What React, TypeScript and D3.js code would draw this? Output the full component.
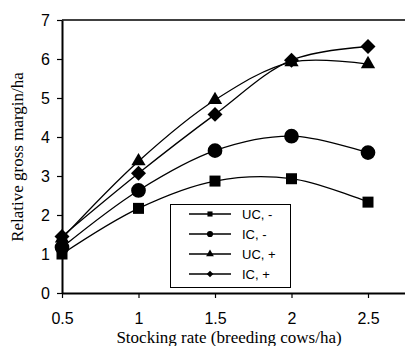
import { useEffect, useRef } from 'react'
import * as d3 from 'd3'

// stocking rate (breeding cows/ha)
const rates = [0.5, 1, 1.5, 2, 2.5]

const ucMinus = [1.0, 2.17, 2.87, 2.93, 2.33]
const icMinus = [1.17, 2.63, 3.65, 4.02, 3.6]
const ucPlus = [1.4, 3.38, 4.95, 5.92, 5.87]
const icPlus = [1.45, 3.07, 4.58, 5.97, 6.32]

const seriesNames = ['UC, -', 'IC, -', 'UC, +', 'IC, +']
const seriesSymbols = [d3.symbolSquare, d3.symbolCircle, d3.symbolTriangle, d3.symbolSquare]
const seriesSizes = [121, 170, 88, 112]
const seriesRotate = [0, 0, 0, 45]
const legendSizes = [26, 30, 26, 22]

const xTicks = [0.5, 1, 1.5, 2, 2.5]
const yTicks = [0, 1, 2, 3, 4, 5, 6, 7]

function App() {
  const svgRef = useRef(null)

  useEffect(() => {
    const svg = d3.select(svgRef.current)
    svg.selectAll('*').remove()

    const W = 405
    const H = 346
    const left = 62
    const top = 20
    const bottom = 293

    const x = d3.scaleLinear().domain([0.5, 3]).range([left, left + 2.5 * 153])
    const y = d3.scaleLinear().domain([0, 7]).range([bottom, top])

    svg.attr('width', W).attr('height', H)

    // frame top line
    svg.append('line')
      .attr('x1', left).attr('x2', W)
      .attr('y1', y(7)).attr('y2', y(7))
      .attr('stroke', '#000').attr('stroke-width', 1.5)

    // y axis
    const yAxis = svg.append('g')
      .attr('transform', `translate(${left},0)`)
      .call(d3.axisLeft(y).tickValues(yTicks).tickSize(5).tickSizeOuter(0).tickPadding(7).tickFormat(d3.format('d')))
    yAxis.select('.domain').attr('stroke-width', 2)
    yAxis.selectAll('.tick line').attr('stroke-width', 1.2)
    yAxis.selectAll('text')
      .style('font-family', '"Liberation Sans", Arial, sans-serif')
      .style('font-size', '16px')
      .attr('fill', '#000')

    // x axis
    const xAxis = svg.append('g')
      .attr('transform', `translate(0,${bottom})`)
      .call(d3.axisBottom(x).tickValues(xTicks).tickSize(5).tickSizeOuter(0).tickPadding(15).tickFormat(d => String(d)))
    xAxis.select('.domain').attr('stroke-width', 2)
    xAxis.selectAll('.tick line').attr('stroke-width', 1.2)
    xAxis.selectAll('text')
      .style('font-family', '"Liberation Sans", Arial, sans-serif')
      .style('font-size', '16px')
      .attr('fill', '#000')

    // titles
    svg.append('text')
      .attr('x', 229).attr('y', 343)
      .attr('text-anchor', 'middle')
      .style('font-family', '"Liberation Serif", "Times New Roman", serif')
      .style('font-size', '17px')
      .text('Stocking rate (breeding cows/ha)')

    svg.append('text')
      .attr('transform', 'rotate(-90)')
      .attr('x', -157).attr('y', 23)
      .attr('text-anchor', 'middle')
      .style('font-family', '"Liberation Serif", "Times New Roman", serif')
      .style('font-size', '17px')
      .text('Relative gross margin/ha')

    const allSeries = [ucMinus, icMinus, ucPlus, icPlus]

    const line = d3.line<number>()
      .x((_, i) => x(rates[i]))
      .y(d => y(d))
      .curve(d3.curveCatmullRom.alpha(0.5))

    allSeries.forEach((vals) => {
      svg.append('path')
        .datum(vals)
        .attr('fill', 'none')
        .attr('stroke', '#000')
        .attr('stroke-width', 1.3)
        .attr('d', line)
    })

    allSeries.forEach((vals, s) => {
      svg.selectAll(`.m${s}`)
        .data(vals)
        .enter()
        .append('path')
        .attr('class', `m${s}`)
        .attr('transform', (d, i) => `translate(${x(rates[i])},${y(d)}) rotate(${seriesRotate[s]})`)
        .attr('d', d3.symbol().type(seriesSymbols[s]).size(seriesSizes[s]))
        .attr('fill', '#000')
    })

    // legend
    const lg = svg.append('g')
    lg.append('rect')
      .attr('x', 170.5).attr('y', 204.5)
      .attr('width', 120).attr('height', 83)
      .attr('fill', '#fff').attr('stroke', '#000').attr('stroke-width', 1)

    seriesNames.forEach((name, i) => {
      const ry = 214 + i * 20
      lg.append('line')
        .attr('x1', 189).attr('x2', 231)
        .attr('y1', ry).attr('y2', ry)
        .attr('stroke', '#000').attr('stroke-width', 1.3)
      lg.append('path')
        .attr('transform', `translate(210,${ry}) rotate(${seriesRotate[i]})`)
        .attr('d', d3.symbol().type(seriesSymbols[i]).size(legendSizes[i]))
        .attr('fill', '#000')
      lg.append('text')
        .attr('x', 242).attr('y', ry + 4.5)
        .style('font-family', '"Liberation Sans", Arial, sans-serif')
        .style('font-size', '13px')
        .text(name)
    })
  }, [])

  return (
    <div style={{ position: 'absolute', left: 0, top: 0, width: 405, height: 346, background: '#fff' }}>
      <svg ref={svgRef} style={{ display: 'block' }}></svg>
    </div>
  )
}

export default App
